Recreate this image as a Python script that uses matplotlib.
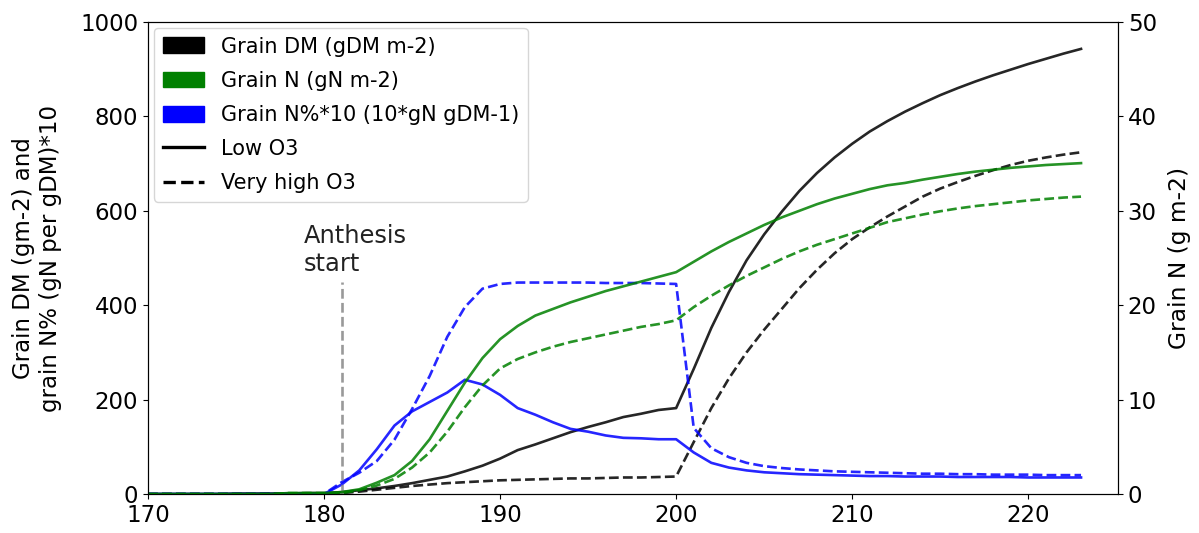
import matplotlib
matplotlib.use("Agg")
import matplotlib.pyplot as plt
import matplotlib.patches as mpatches
from matplotlib.lines import Line2D
import numpy as np

days = np.arange(170, 224)

# Grain DM (gDM m-2), left axis
dm_low = [0, 0, 0, 0, 0, 1, 1, 1, 1, 2, 2,
          4, 8, 12, 17, 23, 30, 37, 48, 60, 75,
          93, 105, 118, 131, 142, 152, 163, 170, 178, 182,
          265, 352, 428, 495, 550, 598, 642, 680, 713, 742,
          768, 790, 810, 828, 845, 860, 874, 887, 899, 911,
          922, 933, 943]
dm_high = [0, 0, 0, 0, 0, 0, 0, 1, 1, 1, 1,
           2, 5, 9, 13, 17, 20, 23, 25, 27, 29,
           30, 31, 32, 33, 33, 34, 35, 35, 36, 37,
           110, 182, 245, 300, 348, 392, 436, 475, 510, 540,
           565, 588, 609, 630, 647, 661, 674, 686, 697, 706,
           713, 719, 724]

# Grain N%*10 (10*gN gDM-1), left axis
npc_low = [0, 0, 0, 0, 0, 0, 0, 0, 0, 0, 0,
           20, 50, 95, 145, 175, 195, 215, 242, 232, 210,
           182, 168, 152, 138, 132, 124, 119, 118, 116, 116,
           88, 66, 56, 50, 46, 44, 42, 41, 40, 39,
           38, 38, 37, 37, 37, 36, 36, 36, 36, 35,
           35, 35, 35]
npc_high = [0, 0, 0, 0, 0, 0, 0, 0, 0, 0, 0,
            25, 45, 70, 115, 180, 250, 333, 396, 435, 445,
            448, 448, 448, 448, 448, 447, 447, 447, 446, 445,
            140, 97, 78, 66, 59, 55, 52, 50, 48, 47,
            46, 45, 44, 43, 43, 42, 42, 41, 41, 41,
            40, 40, 40]

# Grain N (gN m-2), right axis
n_low = [0, 0, 0, 0, 0, 0, 0, 0, 0.1, 0.1, 0.1,
         0.2, 0.5, 1.2, 2.0, 3.5, 5.8, 8.8, 11.8, 14.4, 16.4,
         17.8, 18.9, 19.6, 20.3, 20.9, 21.5, 22.0, 22.5, 23.0, 23.5,
         24.6, 25.7, 26.7, 27.6, 28.5, 29.3, 30.0, 30.7, 31.3, 31.8,
         32.3, 32.7, 32.95, 33.3, 33.6, 33.9, 34.15, 34.35, 34.55, 34.7,
         34.85, 34.95, 35.05]
n_high = [0, 0, 0, 0, 0, 0, 0, 0, 0.1, 0.1, 0.1,
          0.1, 0.4, 0.9, 1.6, 2.8, 4.4, 6.6, 9.2, 11.5, 13.3,
          14.3, 15.0, 15.6, 16.1, 16.5, 16.9, 17.3, 17.7, 18.0, 18.4,
          19.8, 21.0, 22.1, 23.1, 24.0, 24.9, 25.7, 26.4, 27.0, 27.6,
          28.2, 28.8, 29.2, 29.6, 29.95, 30.25, 30.5, 30.7, 30.9, 31.1,
          31.25, 31.4, 31.5]

anthesis_day = 181

fig, ax = plt.subplots(figsize=(11.99, 5.33), dpi=100)
fig.subplots_adjust(left=148 / 1199, right=1118 / 1199, top=1 - 22 / 533, bottom=1 - 494 / 533)
ax2 = ax.twinx()

lw = 1.9
ax.plot(days, dm_low, color='black', lw=lw, alpha=0.85)
ax.plot(days, dm_high, color='black', lw=lw, ls='--', alpha=0.85)
ax.plot(days, npc_low, color='blue', lw=lw, alpha=0.85)
ax.plot(days, npc_high, color='blue', lw=lw, ls='--', alpha=0.85)
ax2.plot(days, n_low, color='green', lw=lw, alpha=0.85)
ax2.plot(days, n_high, color='green', lw=lw, ls='--', alpha=0.85)

ax.plot([anthesis_day, anthesis_day], [0, 450], color='grey', ls='--', lw=1.9, alpha=0.8)
ax.text(178.85, 462, "Anthesis\nstart", ha='left', va='bottom',
        fontsize=17.4, color='#222222')

ax.set_xlim(170, 225.1)
ax.set_ylim(0, 1000)
ax2.set_ylim(0, 50)
ax.set_xticks([170, 180, 190, 200, 210, 220])
ax.tick_params(labelsize=16.5)
ax2.tick_params(labelsize=16.5)
ax.set_ylabel("Grain DM (gm-2) and\ngrain N% (gN per gDM)*10", fontsize=16.5, labelpad=13)
ax2.set_ylabel("Grain N (g m-2)", fontsize=16.8, labelpad=8)

handles = [
    mpatches.Patch(color='black', label='Grain DM (gDM m-2)'),
    mpatches.Patch(color='green', label='Grain N (gN m-2)'),
    mpatches.Patch(color='blue', label='Grain N%*10 (10*gN gDM-1)'),
    Line2D([0], [0], color='black', lw=2.4, label='Low O3'),
    Line2D([0], [0], color='black', lw=2.4, ls='--', label='Very high O3'),
]
ax.legend(handles=handles, loc='upper left', fontsize=15, borderaxespad=0.3,
          handleheight=0.8, labelspacing=0.68)

fig.savefig("out.png", dpi=100)
